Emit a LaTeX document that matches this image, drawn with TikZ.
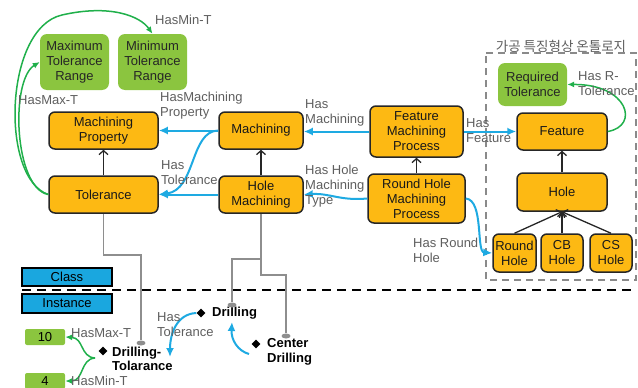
\documentclass[tikz,border=0pt]{standalone}
\usepackage{fontspec}
\setmainfont{Liberation Sans}
\newfontfamily\krfont{Noto Sans CJK KR}
\usetikzlibrary{arrows.meta,shapes.geometric}

\definecolor{boxorange}{HTML}{FDB913}
\definecolor{boxgreen}{HTML}{8BC53F}
\definecolor{arrgreen}{HTML}{20B04B}
\definecolor{arrblue}{HTML}{1EAAE2}
\definecolor{tagblue}{HTML}{1AA7DF}
\definecolor{linkgrey}{HTML}{8E8E8E}
\definecolor{labgrey}{HTML}{5E5E5E}
\definecolor{framegrey}{HTML}{8A8A8A}

\tikzset{
  txt/.style={font=\fontsize{13}{15}\selectfont},
  cls/.style={txt, draw=black!85, line width=1.5pt, fill=boxorange,
    rounded corners=6pt, align=center, inner sep=0pt, text=black!90},
  rng/.style={txt, fill=boxgreen, rounded corners=7pt, align=center,
    inner sep=0pt, text=black!85},
  val/.style={txt, fill=boxgreen, rounded corners=2pt, inner sep=0pt},
  tag/.style={txt, draw=black, line width=1.2pt, fill=tagblue, inner sep=0pt},
  lab/.style={txt, text=labgrey, align=left, inner sep=0pt, anchor=west},
  inst/.style={font=\fontsize{13}{14.5}\selectfont\bfseries, align=left,
    inner sep=0pt, anchor=west},
  dia/.style={diamond, fill=black, inner sep=0pt, minimum size=9pt},
  dot/.style={ellipse, fill=linkgrey, inner sep=0pt, minimum width=9pt, minimum height=5pt},
  isa/.style={draw=black!85, line width=1.3pt, -{Straight Barb[length=4pt,width=9pt]}},
  rel/.style={draw=arrblue, line width=2pt, -{Latex[length=9pt,width=8pt]}},
  grn/.style={draw=arrgreen, line width=1.5pt, -{Latex[length=7pt,width=6pt]}},
  lnk/.style={draw=linkgrey, line width=1.6pt},
}

\begin{document}
\begin{tikzpicture}[x=1pt,y=-1pt]
\useasboundingbox (0,0) rectangle (638,388);

% ---- ontology frame and its title
\draw[framegrey, line width=1.6pt, dash pattern=on 7pt off 5pt]
  (486,53) -- (636,53) -- (636,280) -- (486,280) -- cycle;
\node[font=\krfont\fontsize{13.5}{15}\selectfont, text=labgrey, inner sep=0pt]
  (title) at (561,46) {가공 특징형상 온톨로지};

% ---- class / instance separator
\draw[black, line width=2pt, dash pattern=on 9pt off 6pt] (22,290) -- (634,290);

% ---- class boxes
\node[rng, minimum width=69, minimum height=56] (maxT) at (74.5,62) {Maximum\\Tolerance\\Range};
\node[rng, minimum width=69, minimum height=56] (minT) at (152.5,62) {Minimum\\Tolerance\\Range};
\node[cls, minimum width=109, minimum height=37] (mp)   at (103.5,130.5) {Machining\\Property};
\node[cls, minimum width=84,  minimum height=37] (mach) at (261,130.5) {Machining};
\node[cls, minimum width=109, minimum height=37] (tol)  at (103.5,194.5) {Tolerance};
\node[cls, minimum width=84,  minimum height=37] (hm)   at (261,194.5) {Hole\\Machining};
\node[cls, minimum width=93,  minimum height=51] (fmp)  at (416.5,131.5) {Feature\\Machining\\Process};
\node[cls, minimum width=97,  minimum height=49] (rhmp) at (416.5,198.5) {Round Hole\\Machining\\Process};
\node[rng, minimum width=69,  minimum height=43] (reqT) at (532.5,84.5) {Required\\Tolerance};
\node[cls, minimum width=90,  minimum height=37] (feat) at (562,131.5) {Feature};
\node[cls, minimum width=90,  minimum height=38] (hole) at (562,192) {Hole};
\node[cls, minimum width=43,  minimum height=38] (rh)   at (514.5,253) {Round\\Hole};
\node[cls, minimum width=42,  minimum height=38] (cb)   at (562,253) {CB\\Hole};
\node[cls, minimum width=42,  minimum height=38] (cs)   at (611,253) {CS\\Hole};

\node[tag, minimum width=90, minimum height=18] (clsTag)  at (67,277) {Class};
\node[tag, minimum width=90, minimum height=19] (instTag) at (67,303.5) {Instance};

% ---- instances
\node[val, minimum width=40, minimum height=16] (ten)  at (45,337) {10};
\node[val, minimum width=40, minimum height=16] (four) at (45,381) {4};

\node[dia] (dDrill)  at (201,313) {};
\node[inst] (drill)  at (212,313) {Drilling};
\node[dia] (dCenter) at (256,344) {};
\node[inst] (center) at (267,352) {Center\\Drilling};
\node[dia] (dDT)     at (103,351) {};
\node[inst] (dtol)   at (112,359) {Drilling-\\Tolarance};

\node[dot] (e1) at (141,343) {};
\node[dot] (e2) at (232,305) {};
\node[dot] (e3) at (286,336) {};

% ---- subclass arrows
\draw[isa] (tol) -- (mp);
\draw[isa] (hm) -- (mach);
\draw[isa] (rhmp) -- (fmp);
\draw[isa] (hole) -- (feat);
\draw[isa] (rh.north) -- (hole.south);
\draw[isa] (cb.north) -- (hole.south);
\draw[isa] (cs.north) -- (hole.south);

% ---- object properties
\draw[rel] (mach.west) -- (mp.east);
\draw[rel] (mach.west) .. controls (190,131) and (196,190) .. (tol.east);
\draw[rel] (hm.west) -- (tol.east);
\draw[rel] (fmp.west) -- (mach.east |- fmp.west);
\draw[rel] (rhmp.west) .. controls (340,201) and (330,193) .. (hm.east);
\draw[rel] (fmp.east) -- (feat.west |- fmp.east);
\draw[rel] (rhmp.east) .. controls (484,200) and (476,252) .. (rh.west);

\node[lab] (lHMP) at (160,105.5) {HasMachining\\Property};
\node[lab] (lHT)  at (161,172.5) {Has\\Tolerance};
\node[lab] (lHM)  at (305,112.5) {Has\\Machining};
\node[lab] (lHHM) at (305,186) {Has Hole\\Machining\\Type};
\node[lab] (lHF)  at (466,130.5) {Has\\Feature};
\node[lab] (lHRH) at (413,250.5) {Has Round\\Hole};

% ---- tolerance ranges
\draw[grn] (tol.west) .. controls (14,188) and (10,80) .. (maxT.west);
\draw[grn] (tol.west) .. controls (0,178) and (4,28) .. (62,15)
  .. controls (110,4) and (140,16) .. (minT.north);
\draw[grn] (feat.east) .. controls (640,126) and (628,84) .. (reqT.east);
\node[lab] (lMax) at (18,100) {HasMax-T};
\node[lab] (lMin) at (155,20) {HasMin-T};
\node[lab] (lRT)  at (578,84) {Has R-\\Tolerance};

% ---- class-to-instance links
\coordinate (k1) at (tol.south |- 0,255);
\coordinate (k2) at (hm.south |- 0,275);
\coordinate (k3) at (hm.south |- 0,259);
\draw[lnk] (tol.south) -- (k1) -| (e1);
\draw[lnk] (hm.south) -- (k2) -| (e3);
\draw[lnk] (k3) -| (e2);

% ---- instance relations
\coordinate (dtIn)  at (170,357);
\coordinate (cdOut) at (249,354);
\coordinate (drIn)  at (232,322);
\coordinate (fork)  at (95,358);
\draw[rel] (dDrill.west) .. controls (176,314) and (170,335) .. (dtIn);
\draw[rel] (cdOut) .. controls (238,351) and (231,340) .. (drIn);
\node[lab] (lDT) at (157,325) {Has\\Tolerance};

\draw[grn] (fork) .. controls (80,357) and (84,338) .. (ten.east);
\draw[grn] (fork) .. controls (80,359) and (84,381) .. (four.east);
\node[lab] (lMax2) at (71,333) {HasMax-T};
\node[lab] (lMin2) at (71,381) {HasMin-T};
\end{tikzpicture}
\end{document}
